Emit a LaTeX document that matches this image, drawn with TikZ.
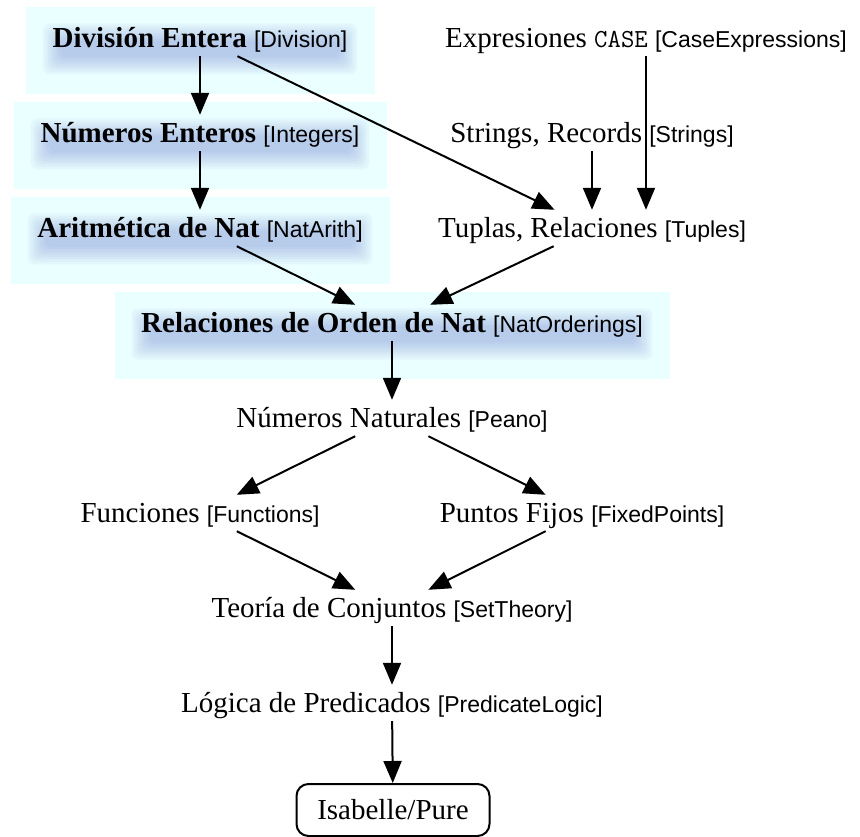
\documentclass[tikz,border=0pt]{standalone}
\usepackage{fontspec}
\setmainfont{Liberation Serif}
\setsansfont{Liberation Sans}
\usepackage{tikz}
\usetikzlibrary{arrows.meta,fit,backgrounds}

\definecolor{hicyan}{RGB}{234,255,255}
\definecolor{glowblue}{RGB}{95,115,205}

\newcommand{\thyname}[1]{{\sffamily\mdseries\fontsize{23}{27}\selectfont[#1]}}

\begin{document}
\begin{tikzpicture}[
    x=1pt, y=-1pt,
    thy/.style={
      inner sep=0pt,
      minimum height=36pt,
      text height=19pt,
      text depth=0pt,
      font=\fontsize{29}{34}\selectfont
    },
    glow/.style={
      fill=glowblue,
      opacity=0.05,
      rounded corners=7pt
    },
    hibox/.style={
      rectangle,
      fill=hicyan,
      inner sep=0pt
    },
    purebox/.style={
      rectangle,
      draw,
      line width=2pt,
      rounded corners=12pt,
      minimum width=193pt,
      minimum height=52pt,
      text height=19pt,
      text depth=0pt,
      font=\fontsize{29}{34}\selectfont
    },
    line/.style={draw, line width=2pt, -{Triangle[length=22pt,width=18pt]}}
]

    \useasboundingbox (0,0) rectangle (860,837);

    % Nodes
    \node [thy] (div) at (200,38) {\bfseries División Entera \thyname{Division}};
    \node [thy] (int) at (200,133) {\bfseries Números Enteros \thyname{Integers}};
    \node [thy] (arith) at (200,228) {\bfseries Aritmética de Nat \thyname{NatArith}};
    \node [thy] (case) at (646,38) {Expresiones {\ttfamily\fontsize{26}{30}\selectfont CASE} \thyname{CaseExpressions}};
    \node [thy] (str) at (592,133) {Strings, Records \thyname{Strings}};
    \node [thy] (tup) at (592,228) {Tuplas, Relaciones \thyname{Tuples}};
    \node [thy] (ord) at (392,323) {\bfseries Relaciones de Orden de Nat \thyname{NatOrderings}};
    \node [thy] (peano) at (392,418) {Números Naturales \thyname{Peano}};
    \node [thy] (fun) at (200,513) {Funciones \thyname{Functions}};
    \node [thy] (fix) at (582,513) {Puntos Fijos \thyname{FixedPoints}};
    \node [thy] (set) at (392,608) {Teoría de Conjuntos \thyname{SetTheory}};
    \node [thy] (logic) at (392,703) {Lógica de Predicados \thyname{PredicateLogic}};
    \node [purebox] (pure) at (393,810) {Isabelle/Pure};

    % Highlighted theories: cyan box and soft blue shadow under the text
    \begin{scope}[on background layer]
      \foreach \n in {div, int, arith, ord} {
        \node [hibox, fit={([xshift=-26pt,yshift=13pt]\n.north west) ([xshift=27pt,yshift=-38pt]\n.south east)}] {};
        \foreach \k [evaluate=\k as \s using 2.5*\k] in {0,...,7}
          \fill [glow] ([shift={(8pt-\s pt,-3pt+\s pt)}]\n.west) rectangle ([shift={(-8pt+\s pt,-19pt-\s pt)}]\n.east);
      }
    \end{scope}

    % Edges
    \path [line] (div) -- (int);
    \path [line] (int) -- (arith);
    \path [line] (div) -- (tup);
    \path [line] (str) -- (tup);
    \path [line] (case) -- (case |- tup.north);
    \path [line] (arith) -- (ord);
    \path [line] (tup) -- (ord);
    \path [line] (ord) -- (peano);
    \path [line] (peano) -- (fun);
    \path [line] (peano) -- (fix);
    \path [line] (fun) -- (set);
    \path [line] (fix) -- (set);
    \path [line] (set) -- (logic);
    \path [line] (logic) -- (pure);

\end{tikzpicture}
\end{document}
